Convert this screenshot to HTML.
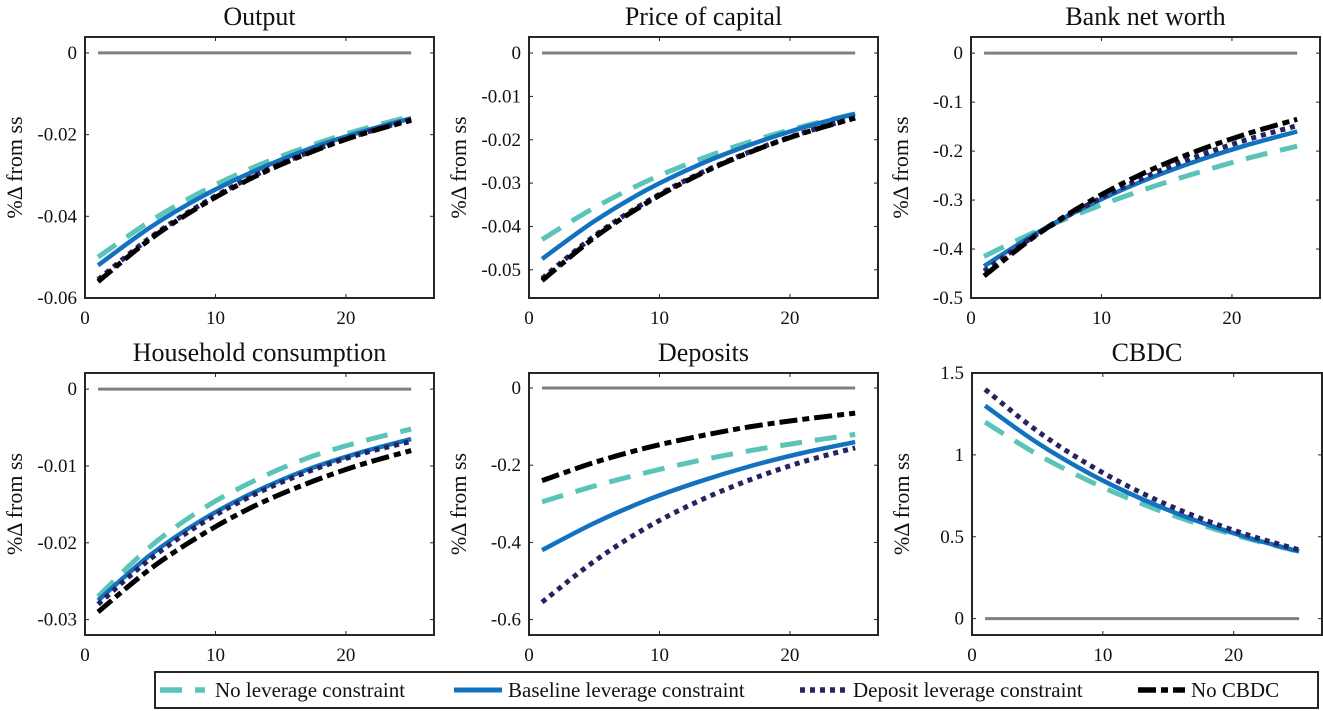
<!DOCTYPE html>
<html><head><meta charset="utf-8">
<style>
body{margin:0;background:#fff;}
svg{display:block;font-family:"Liberation Serif",serif;}
</style></head>
<body>
<svg id="fig" width="1323" height="711" viewBox="0 0 1323 711"></svg>
<script>
const periods = [1,5,9,13,17,21,25];
const seriesNames = ["No leverage constraint","Baseline leverage constraint","Deposit leverage constraint","No CBDC"];
const panelTitles = ["Output","Price of capital","Bank net worth","Household consumption","Deposits","CBDC"];
const outputNL=[-0.050,-0.0412,-0.0339,-0.0279,-0.0230,-0.0189,-0.0155];
const outputBL=[-0.052,-0.0427,-0.0351,-0.0289,-0.0237,-0.0195,-0.016];
const outputDL=[-0.0555,-0.0452,-0.0369,-0.0300,-0.0245,-0.0200,-0.0163];
const outputNC=[-0.056,-0.0456,-0.0372,-0.0303,-0.0247,-0.0201,-0.0165];
const priceNL=[-0.043,-0.0357,-0.0296,-0.0246,-0.0204,-0.0169,-0.014];
const priceBL=[-0.0475,-0.0388,-0.0316,-0.0258,-0.0211,-0.0172,-0.014];
const priceDL=[-0.052,-0.0422,-0.0343,-0.0279,-0.0227,-0.0184,-0.0149];
const priceNC=[-0.0525,-0.0426,-0.0346,-0.0281,-0.0228,-0.0185,-0.015];
const bankNL=[-0.415,-0.364,-0.320,-0.281,-0.247,-0.216,-0.19];
const bankBL=[-0.435,-0.368,-0.311,-0.263,-0.223,-0.189,-0.16];
const bankDL=[-0.445,-0.371,-0.309,-0.257,-0.214,-0.178,-0.148];
const bankNC=[-0.455,-0.372,-0.304,-0.248,-0.203,-0.166,-0.135];
const consNL=[-0.027,-0.0205,-0.0156,-0.0119,-0.0090,-0.0069,-0.0052];
const consBL=[-0.0275,-0.0216,-0.0170,-0.0134,-0.0105,-0.0083,-0.0065];
const consDL=[-0.028,-0.0221,-0.0174,-0.0137,-0.0108,-0.0085,-0.0068];
const consNC=[-0.029,-0.0234,-0.0189,-0.0152,-0.0123,-0.0099,-0.008];
const depNL=[-0.295,-0.254,-0.219,-0.188,-0.162,-0.140,-0.12];
const depBL=[-0.42,-0.350,-0.291,-0.243,-0.202,-0.168,-0.14];
const depDL=[-0.555,-0.449,-0.362,-0.293,-0.237,-0.191,-0.155];
const depNC=[-0.24,-0.193,-0.155,-0.125,-0.100,-0.081,-0.065];
const cbdcNL=[1.2,1.003,0.839,0.701,0.586,0.490,0.41];
const cbdcBL=[1.3,1.073,0.885,0.730,0.602,0.497,0.41];
const cbdcDL=[1.4,1.145,0.937,0.766,0.627,0.513,0.42];
const outputTicks=["0","-0.02","-0.04","-0.06"];
const priceTicks=["0","-0.01","-0.02","-0.03","-0.04","-0.05"];
const bankTicks=["0","-0.1","-0.2","-0.3","-0.4","-0.5"];
const consTicks=["0","-0.01","-0.02","-0.03"];
const depTicks=["0","-0.2","-0.4","-0.6"];
const cbdcTicks=["0","0.5","1","1.5"];
const xTicks=["0","10","20"];

const NS="http://www.w3.org/2000/svg";
const svg=document.getElementById('fig');
function mk(tag,attrs,parent){const e=document.createElementNS(NS,tag);for(const k in attrs)e.setAttribute(k,attrs[k]);(parent||svg).appendChild(e);return e;}

const styles=[
 {stroke:"#5BC4B8",w:5,dash:"22 13",cap:"butt"},
 {stroke:"#1372BF",w:4.5,dash:"",cap:"butt"},
 {stroke:"#27235F",w:5,dash:"5 5",cap:"butt"},
 {stroke:"#000",w:5,dash:"18 5 7 5",cap:"butt"}
];
const panels=[
 {l:85,t:37,r:434,b:298,ymin:-0.06,ymax:0.0039,ticks:outputTicks,s:[outputNL,outputBL,outputDL,outputNC],name:"output"},
 {l:529,t:37,r:878,b:298,ymin:-0.0565,ymax:0.0037,ticks:priceTicks,s:[priceNL,priceBL,priceDL,priceNC],name:"price-of-capital"},
 {l:971,t:37,r:1320,b:298,ymin:-0.5,ymax:0.033,ticks:bankTicks,s:[bankNL,bankBL,bankDL,bankNC],name:"bank-net-worth"},
 {l:85,t:373,r:434,b:635,ymin:-0.032,ymax:0.0021,ticks:consTicks,s:[consNL,consBL,consDL,consNC],name:"household-consumption"},
 {l:529,t:373,r:878,b:635,ymin:-0.64,ymax:0.039,ticks:depTicks,s:[depNL,depBL,depDL,depNC],name:"deposits"},
 {l:972,t:373,r:1322,b:635,ymin:-0.1,ymax:1.5,ticks:cbdcTicks,s:[cbdcNL,cbdcBL,cbdcDL,null],name:"cbdc"}
];
function smoothPath(pts){
 let d="M"+pts[0][0].toFixed(2)+","+pts[0][1].toFixed(2);
 for(let i=0;i<pts.length-1;i++){
  const p0=pts[Math.max(0,i-1)],p1=pts[i],p2=pts[i+1],p3=pts[Math.min(pts.length-1,i+2)];
  const c1=[p1[0]+(p2[0]-p0[0])/6,p1[1]+(p2[1]-p0[1])/6];
  const c2=[p2[0]-(p3[0]-p1[0])/6,p2[1]-(p3[1]-p1[1])/6];
  d+=" C"+c1.map(v=>v.toFixed(2))+" "+c2.map(v=>v.toFixed(2))+" "+p2.map(v=>v.toFixed(2));
 }
 return d;
}
panels.forEach((p,pi)=>{
 const g=mk('g',{});
 
 
 const xs=v=>p.l+(v/26.75)*(p.r-p.l);
 const ys=v=>p.b-(v-p.ymin)/(p.ymax-p.ymin)*(p.b-p.t);
 const tt=mk('text',{x:(p.l+p.r)/2,y:p.t-12,'text-anchor':'middle','font-size':26,fill:'#111'},g);
 tt.textContent=panelTitles[pi];
 
 
 const yl=mk('text',{x:0,y:0,'text-anchor':'middle','font-size':22,fill:'#111',transform:`translate(${p.l-63},${(p.t+p.b)/2}) rotate(-90)`},g);
 yl.textContent="%\u0394 from ss";
 
 
 p.ticks.forEach(lbl=>{
  const v=parseFloat(lbl),y=ys(v);
  mk('line',{x1:p.l,x2:p.l+4,y1:y,y2:y,stroke:'#222','stroke-width':1},g);
  mk('line',{x1:p.r,x2:p.r-4,y1:y,y2:y,stroke:'#222','stroke-width':1},g);
  const t=mk('text',{x:p.l-8,y:y+6,'text-anchor':'end','font-size':19,fill:'#111'},g);
  t.textContent=lbl;
  
  
 });
 xTicks.forEach(lbl=>{
  const x=xs(parseFloat(lbl));
  mk('line',{x1:x,x2:x,y1:p.b,y2:p.b-4,stroke:'#222','stroke-width':1},g);
  mk('line',{x1:x,x2:x,y1:p.t,y2:p.t+4,stroke:'#222','stroke-width':1},g);
  const t=mk('text',{x:x,y:p.b+26,'text-anchor':'middle','font-size':19,fill:'#111'},g);
  t.textContent=lbl;
  
  
 });
 const z=mk('line',{x1:xs(1),x2:xs(25),y1:ys(0),y2:ys(0),stroke:'#808080','stroke-width':3},g);
 
 
 p.s.forEach((arr,si)=>{
  if(!arr)return;
  const pts=arr.map((v,i)=>[xs(periods[i]),ys(v)]);
  const st=styles[si];
  const path=mk('path',{d:smoothPath(pts),fill:'none',stroke:st.stroke,'stroke-width':st.w,'stroke-dasharray':st.dash,'stroke-linecap':st.cap},g);
  
  
 });
 const box=mk('rect',{x:p.l,y:p.t,width:p.r-p.l,height:p.b-p.t,fill:'none',stroke:'#262626','stroke-width':2},g);
 
 
});
const lg=mk('g',{});


mk('rect',{x:155,y:672,width:1163,height:36,fill:'#fff',stroke:'#262626','stroke-width':2},lg);
const legX=[[160,205,215],[454,502,508],[800,848,853],[1138,1185,1191]];
seriesNames.forEach((n,i)=>{
 const st=styles[i];
 const ln=mk('line',{x1:legX[i][0],x2:legX[i][1],y1:690,y2:690,stroke:st.stroke,'stroke-width':st.w+0.5,'stroke-dasharray':st.dash},lg);
 
 
 const t=mk('text',{x:legX[i][2],y:697,'font-size':21,fill:'#111'},lg);
 t.textContent=n;
 
 
});
</script>
</body></html>
